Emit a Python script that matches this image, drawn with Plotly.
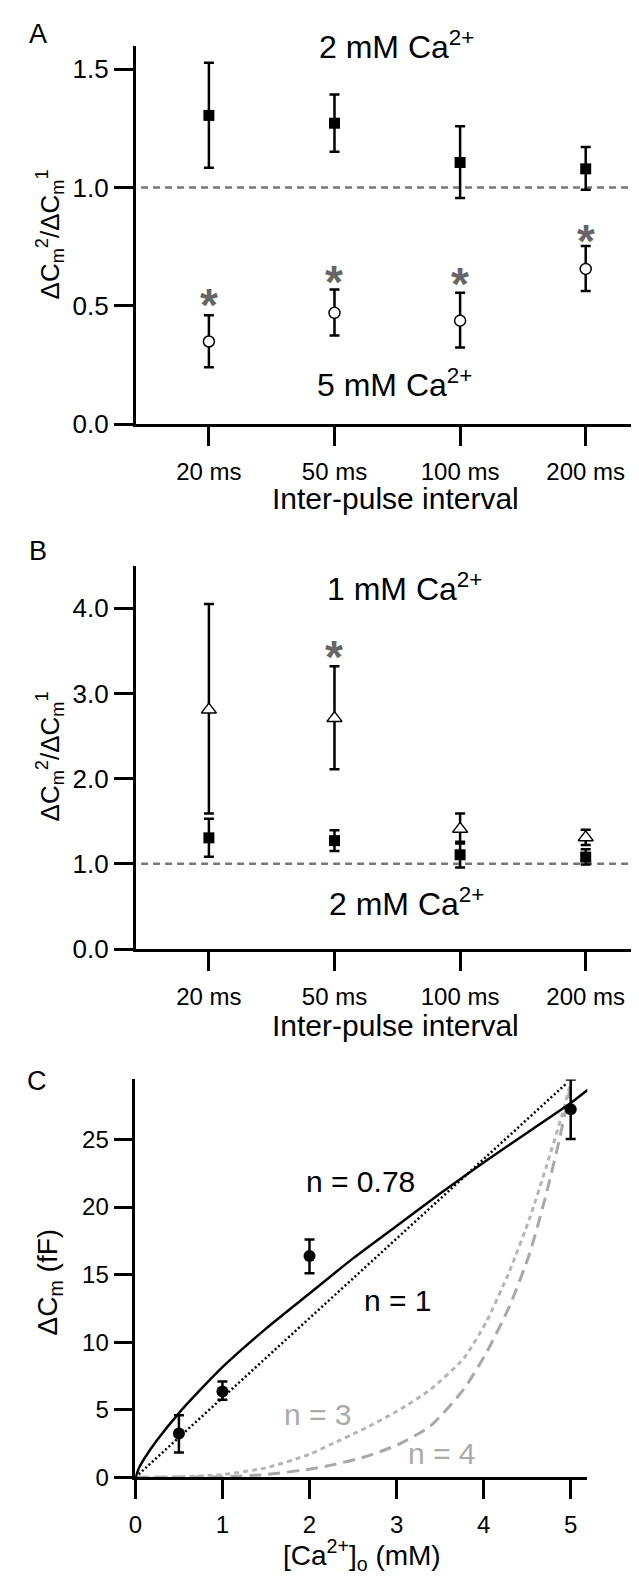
import plotly.graph_objects as go

W, H = 639, 1585

# ---------------- Data ----------------
intervals = ["20 ms", "50 ms", "100 ms", "200 ms"]
interval_pos = [0, 1, 2, 3]

# Panel A: 2 mM Ca2+ (filled squares)
a2_mean = [1.305, 1.272, 1.106, 1.079]
a2_hi = [1.528, 1.393, 1.259, 1.171]
a2_lo = [1.084, 1.151, 0.956, 0.991]
# Panel A: 5 mM Ca2+ (open circles)
a5_mean = [0.349, 0.470, 0.437, 0.656]
a5_hi = [0.460, 0.569, 0.555, 0.753]
a5_lo = [0.240, 0.374, 0.324, 0.562]
a_star = [0.544, 0.642, 0.636, 0.816]

# Panel B: 1 mM Ca2+ (open triangles); 2 mM = same data as panel A squares
b1_mean = [2.81, 2.71, 1.41, 1.31]
b1_hi = [4.05, 3.32, 1.59, 1.40]
b1_lo = [1.59, 2.11, 1.24, 1.22]
b_star_pos = [1]
b_star = [3.54]

# Panel C: dCm vs [Ca2+]o
ca_conc = [0.5, 1.0, 2.0, 5.0]
dcm = [3.23, 6.35, 16.37, 27.24]
dcm_hi = [4.59, 7.08, 17.6, 29.44]
dcm_lo = [1.83, 5.74, 15.1, 25.04]

# Fitted curves
fit078_x = [0, 0.05, 0.1, 0.25, 0.5, 0.75, 1, 1.5, 2, 2.5, 3, 3.5, 4, 4.5, 5, 5.2]
fit078_y = [0, 0.8, 1.35, 2.75, 4.75, 6.5, 8.15, 11.0, 13.6, 16.2, 18.6, 21.0, 23.3, 25.5, 27.7, 28.7]
fit1_x = [0, 4.96]
fit1_y = [0, 29.2]
fit3_x = [0, 0.5, 1, 1.5, 2, 2.25, 2.63, 3.01, 3.39, 3.77, 4.03, 4.3, 4.53, 4.72, 4.9, 5.0]
fit3_y = [0, 0.03, 0.2, 0.7, 1.7, 2.45, 3.6, 4.9, 6.5, 8.8, 11.5, 15.3, 19.2, 23.0, 26.8, 29.2]
fit4_x = [0, 0.5, 1, 1.5, 2, 2.25, 2.63, 3.01, 3.39, 3.77, 4.03, 4.3, 4.53, 4.72, 4.87, 5.0]
fit4_y = [0, 0.01, 0.04, 0.2, 0.6, 0.9, 1.5, 2.4, 3.8, 6.5, 9.2, 12.7, 16.6, 21.0, 25.0, 29.0]

# ---------------- helpers ----------------
FONT = "Liberation Sans, Arial, sans-serif"
def px(x):
    return x / W
def py(y):
    return 1 - y / H

def err(mean, hi, lo):
    return dict(type="data", symmetric=False,
                array=[h - m for h, m in zip(hi, mean)],
                arrayminus=[m - l for m, l in zip(mean, lo)],
                color="black", thickness=2.5, width=5)

fig = go.Figure()

# Panel A
fig.add_trace(go.Scatter(x=interval_pos, y=a2_mean, mode="markers", xaxis="x", yaxis="y",
                         marker=dict(symbol="square", size=11, color="black"),
                         error_y=err(a2_mean, a2_hi, a2_lo), cliponaxis=False))
fig.add_trace(go.Scatter(x=interval_pos, y=a5_mean, mode="markers", xaxis="x", yaxis="y",
                         marker=dict(symbol="circle", size=11, color="white",
                                     line=dict(color="black", width=1.5)),
                         error_y=err(a5_mean, a5_hi, a5_lo), cliponaxis=False))

# Panel B
fig.add_trace(go.Scatter(x=interval_pos, y=b1_mean, mode="markers", xaxis="x2", yaxis="y2",
                         marker=dict(symbol="triangle-up", size=13, color="white",
                                     line=dict(color="black", width=1.5)),
                         error_y=err(b1_mean, b1_hi, b1_lo), cliponaxis=False))
fig.add_trace(go.Scatter(x=interval_pos, y=a2_mean, mode="markers", xaxis="x2", yaxis="y2",
                         marker=dict(symbol="square", size=11, color="black"),
                         error_y=err(a2_mean, a2_hi, a2_lo), cliponaxis=False))

# Panel C curves
fig.add_trace(go.Scatter(x=fit4_x, y=fit4_y, mode="lines", xaxis="x3", yaxis="y3",
                         line=dict(color="#a8a8a8", width=3, dash="12px,7px", shape="spline", smoothing=0.6)))
fig.add_trace(go.Scatter(x=fit3_x, y=fit3_y, mode="lines", xaxis="x3", yaxis="y3",
                         line=dict(color="#b6b6b6", width=3, dash="5px,4px", shape="spline", smoothing=0.6)))
fig.add_trace(go.Scatter(x=fit1_x, y=fit1_y, mode="lines", xaxis="x3", yaxis="y3",
                         line=dict(color="black", width=2.5, dash="2px,2.5px")))
fig.add_trace(go.Scatter(x=fit078_x, y=fit078_y, mode="lines", xaxis="x3", yaxis="y3",
                         line=dict(color="black", width=2.5, shape="spline", smoothing=0.6)))
fig.add_trace(go.Scatter(x=ca_conc, y=dcm, mode="markers", xaxis="x3", yaxis="y3",
                         marker=dict(symbol="circle", size=12, color="black"),
                         error_y=err(dcm, dcm_hi, dcm_lo), cliponaxis=False))

# ---------------- axes ----------------
xr = [-0.583, 3.488]
common = dict(showgrid=False, zeroline=False, showline=True, linecolor="black", linewidth=2.5,
              ticks="outside", ticklen=19, tickwidth=2.5, tickcolor="black",
              tickfont=dict(family=FONT, size=24, color="black"))
xcommon = dict(common, ticklabelstandoff=5)
ycommon = dict(common, tickfont=dict(family=FONT, size=26, color="black"))

fig.update_layout(
    width=W, height=H, margin=dict(l=0, r=0, t=0, b=0),
    paper_bgcolor="white", plot_bgcolor="white", showlegend=False,
    xaxis=dict(domain=[px(122), 1], range=xr, tickvals=interval_pos, ticktext=intervals,
               anchor="y", **xcommon),
    yaxis=dict(domain=[py(420), py(38)], range=[0, 1.6], tickvals=[0, 0.5, 1.0, 1.5],
               tickformat=".1f", anchor="x", **ycommon),
    xaxis2=dict(domain=[px(122), 1], range=xr, tickvals=interval_pos, ticktext=intervals,
                anchor="y2", **xcommon),
    yaxis2=dict(domain=[py(950), py(563)], range=[0, 4.5], tickvals=[0, 1, 2, 3, 4],
                tickformat=".1f", anchor="x2", **ycommon),
    xaxis3=dict(domain=[px(121.7), px(578.6)], range=[0, 5.19], tickvals=[0, 1, 2, 3, 4, 5],
                anchor="y3", **xcommon),
    yaxis3=dict(domain=[py(1483.3), py(1081.7)], range=[0, 29.44], tickvals=[0, 5, 10, 15, 20, 25],
                anchor="x3", **common),
)

# dashed reference lines at 1.0
for xa, ya in (("x", "y"), ("x2", "y2")):
    fig.add_shape(type="line", xref=xa, yref=ya, x0=-0.54, x1=xr[1], y0=1.0, y1=1.0,
                  line=dict(color="#777777", width=2.5, dash="7px,5px"), layer="below")

# ---------------- annotations ----------------
def ann(text, x, y, size, color="black", xanchor="center", yanchor="middle", angle=0, yshift=0):
    fig.add_annotation(text=text, xref="paper", yref="paper", x=px(x), y=py(y),
                       xanchor=xanchor, yanchor=yanchor, showarrow=False, textangle=angle,
                       yshift=yshift, font=dict(family=FONT, size=size, color=color))

ann("A", 23, 26, 27)
ann("B", 23, 548, 27)
ann("C", 22, 1083, 27)

ytitle = "ΔC<sub>m</sub><sup>2</sup>/ΔC<sub>m</sub><sup>1</sup>"
ann(ytitle, 35, 229, 26, angle=-90)
ann(ytitle, 35, 756, 26, angle=-90)
ann("ΔC<sub>m</sub> (fF)", 35, 1286, 28, angle=-90)

ann("Inter-pulse interval", 385, 495, 30)
ann("Inter-pulse interval", 385, 1027, 30)
ann("[Ca<sup>2+</sup>]<sub>o</sub> (mM)", 351, 1584, 28, yanchor="bottom")

ann("2 mM Ca<sup>2+</sup>", 305, 37, 32, xanchor="left")
ann("5 mM Ca<sup>2+</sup>", 303, 379, 32, xanchor="left")
ann("1 mM Ca<sup>2+</sup>", 313, 585, 32, xanchor="left")
ann("2 mM Ca<sup>2+</sup>", 315, 903, 32, xanchor="left")

ann("n = 0.78", 349, 1185, 30)
ann("n = 1", 387, 1305, 30)
ann("n = 3", 306, 1420, 30, color="#aaaaaa")
ann("n = 4", 432, 1459, 30, color="#aaaaaa")

# asterisks (significance marks)
for xi, yv in zip(interval_pos, a_star):
    fig.add_annotation(text="<b>*</b>", xref="x", yref="y", x=xi, y=yv, showarrow=False,
                       yshift=-10, font=dict(family=FONT, size=46, color="#666666"))
for xi, yv in zip(b_star_pos, b_star):
    fig.add_annotation(text="<b>*</b>", xref="x2", yref="y2", x=xi, y=yv, showarrow=False,
                       yshift=-10, font=dict(family=FONT, size=46, color="#666666"))

fig.write_html("out.html")
